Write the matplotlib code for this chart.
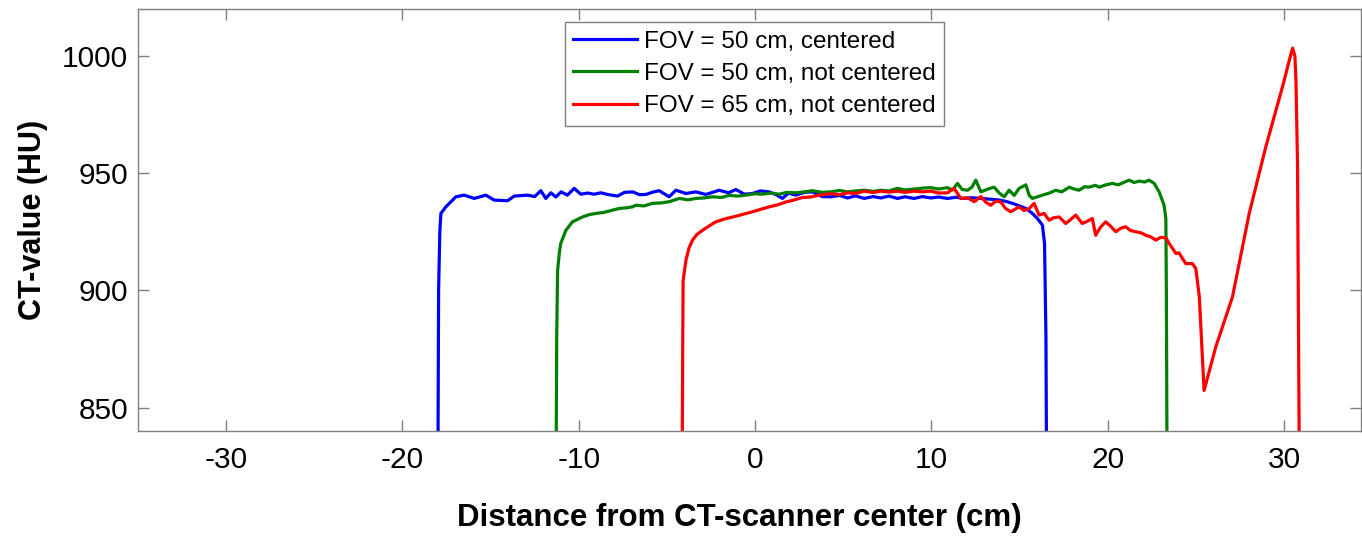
import matplotlib
matplotlib.use("Agg")
import matplotlib.pyplot as plt

# profiles (distance in cm, CT value in HU)
blue_x = [-18.00, -17.95, -17.88, -17.82, -17.54, -17.26, -16.97, -16.5, -15.93, -15.27, -14.8, -14.04,
          -13.66, -12.9, -12.5, -12.15, -11.87, -11.58, -11.3, -11.0, -10.64, -10.26, -9.88, -9.5, -9.13,
          -8.75, -8.37, -7.8, -7.4, -6.95, -6.55, -6.19, -5.8, -5.44, -4.87, -4.49, -3.92, -3.36, -2.79,
          -2.4, -2.04, -1.5, -1.09, -0.6, -0.15, 0.3, 0.8, 1.2, 1.55, 1.9, 2.31, 2.8, 3.26, 3.8, 4.3, 4.8,
          5.24, 5.7, 6.19, 6.7, 7.13, 7.6, 8.08, 8.5, 9.02, 9.5, 9.97, 10.4, 10.91, 11.4, 11.86, 12.3,
          12.81, 13.3, 13.75, 14.2, 14.6, 15.0, 15.36, 15.7, 16.02, 16.3, 16.42, 16.5, 16.55]
blue_y = [800, 900, 925, 932.8, 935.6, 937.7, 939.9, 940.6, 939.2, 940.6, 938.5, 938.2,
          940.2, 940.6, 940.0, 942.5, 939.2, 941.6, 939.8, 942.0, 940.6, 943.5, 941.0, 941.5, 941.0,
          941.6, 940.9, 940.2, 941.8, 942.0, 940.8, 940.9, 941.9, 942.5, 939.9, 942.7, 941.3, 942.0, 940.9,
          941.8, 942.7, 941.6, 943.0, 941.0, 941.3, 942.4, 942.0, 940.8, 939.2, 941.5, 940.6, 941.8, 942.0,
          940.0, 939.9, 940.5, 939.4, 940.3, 939.2, 940.0, 939.4, 940.2, 939.2, 939.9, 939.2, 940.0, 939.4,
          939.8, 939.2, 939.7, 939.2, 939.5, 939.2, 938.9, 938.6, 938.0, 937.1, 936.0, 934.9, 933.0, 930.6,
          927.8, 920, 880, 800]

green_x = [-11.3, -11.25, -11.2, -11.1, -11.02, -10.73, -10.36, -9.79, -9.4, -9.03, -8.6, -8.09, -7.71,
           -7.3, -6.95, -6.77, -6.3, -5.82, -5.3, -4.87, -4.3, -3.8, -3.36, -2.9, -2.42, -1.9, -1.47, -1.0,
           -0.52, 0.0, 0.42, 0.9, 1.37, 1.8, 2.31, 2.8, 3.26, 3.8, 4.3, 4.8, 5.24, 5.7, 6.19, 6.7, 7.13, 7.6,
           8.08, 8.5, 9.02, 9.5, 9.97, 10.4, 10.91, 11.2, 11.48, 11.75, 12.05, 12.3, 12.52, 12.81, 13.2,
           13.56, 13.85, 14.13, 14.41, 14.7, 14.98, 15.36, 15.55, 15.73, 16.3, 16.7, 17.05, 17.4, 17.82,
           18.1, 18.38, 18.7, 18.95, 19.3, 19.52, 19.9, 20.27, 20.6, 20.84, 21.22, 21.5, 21.79, 22.1, 22.35,
           22.64, 22.92, 23.2, 23.3, 23.33, 23.38]
green_y = [800, 880, 908.5, 916, 920, 925.6, 929.2, 931.3, 932.3, 932.8, 933.2, 934.2, 934.9,
           935.2, 935.6, 936.3, 936.0, 937.1, 937.3, 937.8, 939.2, 938.6, 939.2, 939.4, 939.9, 939.6, 940.5,
           940.2, 940.6, 941.2, 941.0, 941.5, 941.0, 941.8, 941.6, 942.0, 942.5, 941.8, 942.0, 942.6, 942.0,
           942.4, 942.7, 942.2, 942.7, 942.4, 943.5, 942.8, 943.2, 943.6, 943.8, 943.2, 943.8, 942.8, 945.6,
           943.0, 942.7, 944.0, 947.0, 942.0, 943.2, 944.0, 941.5, 939.9, 942.7, 940.5, 943.5, 945.0, 940.5,
           939.2, 940.6, 941.5, 942.7, 942.0, 944.0, 943.2, 942.7, 944.2, 944.0, 944.8, 944.0, 945.0, 945.6,
           945.0, 945.8, 947.0, 946.0, 946.6, 946.2, 947.0, 945.6, 942.0, 936.3, 930.6, 900, 800]

red_x = [-4.15, -4.1, -4.08, -3.92, -3.75, -3.55, -3.3, -2.98, -2.6, -2.23, -1.7, -1.09, -0.6, -0.15,
         0.3, 0.8, 1.3, 1.75, 2.2, 2.69, 3.15, 3.64, 4.3, 4.8, 5.24, 5.7, 6.19, 6.7, 7.13, 7.6, 8.08, 8.5,
         9.02, 9.5, 9.97, 10.4, 10.91, 11.29, 11.67, 12.05, 12.43, 12.81, 13.1, 13.37, 13.65, 13.93, 14.2,
         14.5, 14.98, 15.25, 15.55, 15.83, 16.11, 16.4, 16.68, 16.95, 17.25, 17.62, 17.9, 18.19, 18.56,
         18.85, 19.13, 19.32, 19.6, 19.89, 20.15, 20.46, 20.75, 21.02, 21.3, 21.59, 21.9, 22.16, 22.45,
         22.73, 23.0, 23.3, 23.49, 23.87, 24.05, 24.25, 24.43, 24.81, 25.0, 25.2, 25.47, 26.13, 27.08,
         28.03, 28.97, 29.92, 30.3, 30.49, 30.62, 30.68, 30.77, 30.86, 30.88]
red_y = [800, 880, 904.3, 912.8, 918, 921.4, 923.8, 925.6, 927.5, 929.2, 930.5, 931.6, 932.6, 933.5,
         934.5, 935.6, 936.5, 937.7, 938.5, 939.6, 939.8, 940.6, 941.2, 940.8, 941.6, 941.3, 942.3, 941.7,
         942.3, 941.9, 942.3, 941.8, 942.3, 942.0, 942.3, 941.5, 941.6, 943.5, 939.2, 939.5, 937.8, 940.0,
         937.5, 936.3, 938.0, 937.8, 935.0, 933.5, 935.6, 934.0, 934.9, 937.1, 932.1, 932.8, 929.9, 931.0,
         931.3, 928.5, 930.2, 932.1, 928.5, 929.5, 930.6, 923.5, 927.0, 929.2, 927.5, 925.0, 926.5, 927.1,
         925.5, 925.0, 924.5, 923.5, 922.8, 921.4, 922.6, 922.4, 920.0, 915.7, 916.0, 913.5, 911.4, 911.4,
         909.3, 897.2, 857.3, 875.8, 897.2, 932.8, 961.2, 986.9, 998, 1003.3, 1000, 989.7, 954, 840, 800]

labels = ["FOV = 50 cm, centered", "FOV = 50 cm, not centered", "FOV = 65 cm, not centered"]
colors = ["#0000ff", "#008000", "#ff0000"]

plt.rcParams["font.family"] = ["Liberation Sans", "DejaVu Sans"]
plt.rcParams["axes.unicode_minus"] = False

fig = plt.figure(figsize=(13.62, 5.37), dpi=100)
ax = fig.add_axes([138 / 1362, 1 - 431 / 537, (1361 - 138) / 1362, (431 - 9) / 537])

ax.plot(blue_x, blue_y, color=colors[0], lw=2.3, label=labels[0])
ax.plot(green_x, green_y, color=colors[1], lw=2.3, label=labels[1])
ax.plot(red_x, red_y, color=colors[2], lw=2.3, label=labels[2])

ax.set_xlim(-35, 34.37)
ax.set_ylim(840, 1020)
ax.set_xticks([-30, -20, -10, 0, 10, 20, 30])
ax.set_yticks([850, 900, 950, 1000])

for s in ax.spines.values():
    s.set_color("#7f7f7f")
    s.set_linewidth(1.0)
ax.tick_params(direction="in", length=8, width=1, color="#7f7f7f", labelsize=21.5,
               top=True, right=True)
ax.tick_params(axis="x", pad=11)
ax.tick_params(axis="y", pad=7)

ax.set_xlabel("Distance from CT-scanner center (cm)", fontsize=22.5, fontweight="bold")
ax.xaxis.set_label_coords((739.5 - 138) / 1223, -(518 - 431) / 422, transform=ax.transAxes)
ax.xaxis.label.set_va("center")
ax.set_ylabel("CT-value (HU)", fontsize=22, fontweight="bold", labelpad=10)

leg = ax.legend(loc="upper left", bbox_to_anchor=(0.349, 0.969), borderaxespad=0,
                fontsize=17.5, fancybox=False, edgecolor="#7f7f7f", framealpha=1,
                handlelength=2.6, handletextpad=0.3, labelspacing=0.42, borderpad=0.35)
leg.get_frame().set_linewidth(1.0)

fig.savefig("out.png", dpi=100)
